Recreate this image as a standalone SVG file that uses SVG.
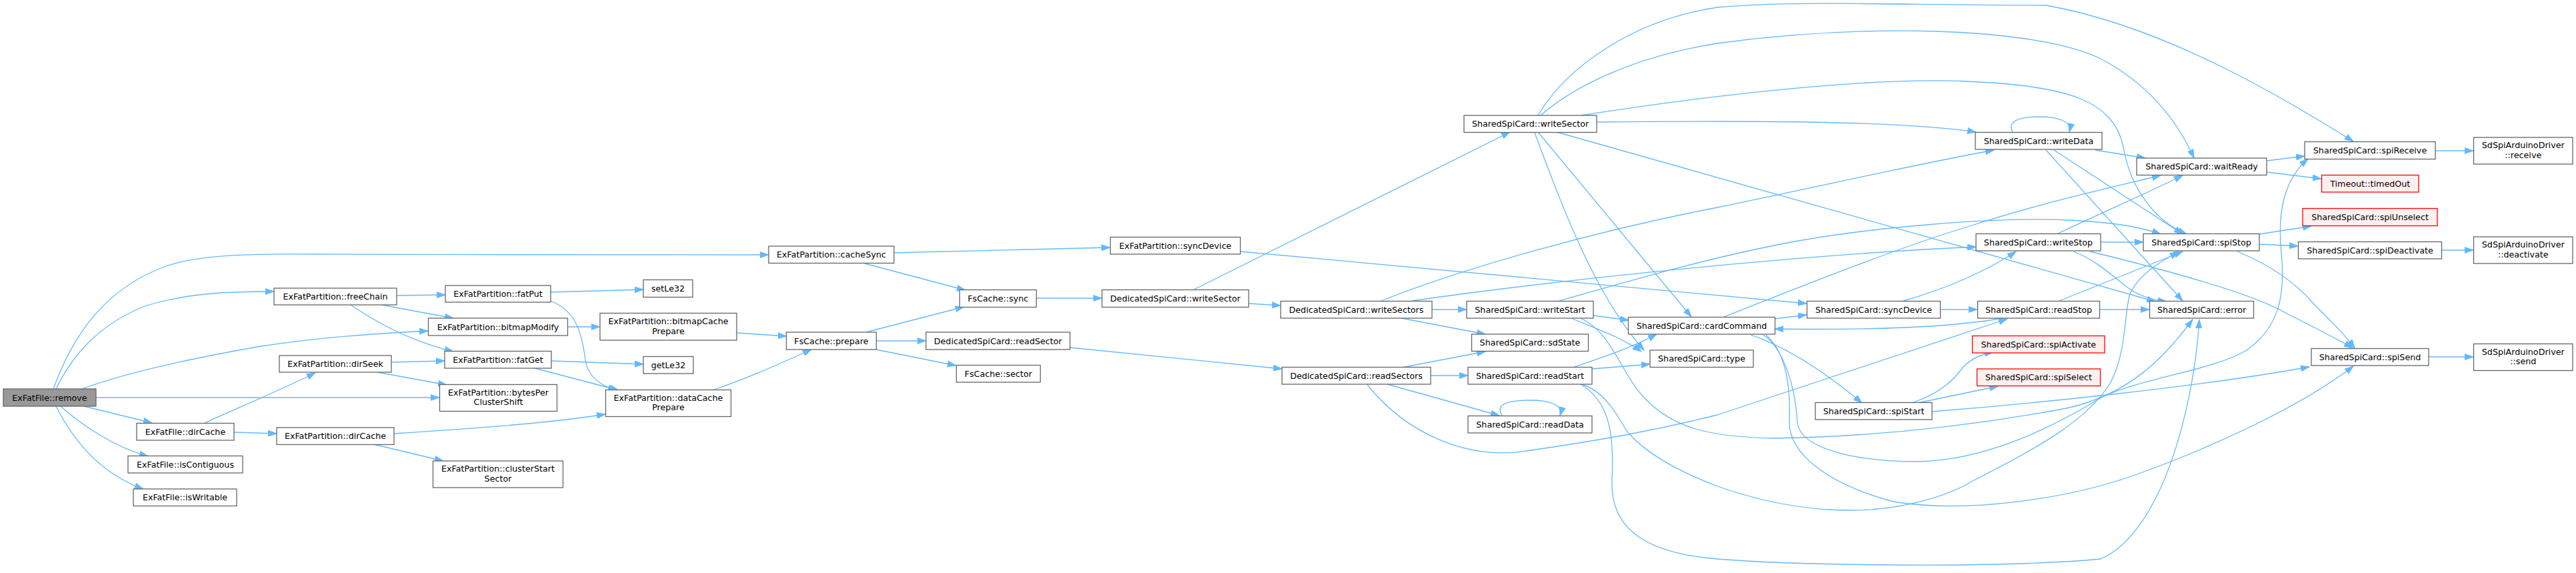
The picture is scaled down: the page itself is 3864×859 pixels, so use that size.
<svg xmlns="http://www.w3.org/2000/svg" width="3864" height="859" viewBox="0 0 3864 859">
<style>
.n rect{fill:#fff;stroke:#666;stroke-width:1.3}
.n.root rect{fill:#999}
.n.red rect{fill:#fff0f0;stroke:#f00}
.n text{font-family:"DejaVu Sans","Liberation Sans",sans-serif;font-size:12.7px;fill:#000;text-anchor:middle}
#edges path{fill:none;stroke:#63b8ff;stroke-width:1.3;marker-end:url(#ah)}
</style>
<defs>
<marker id="ah" markerWidth="14" markerHeight="10" refX="13" refY="5" orient="auto" markerUnits="userSpaceOnUse"><path d="M0,0.5 L13,5 L0,9.5 z" fill="#63b8ff" stroke="#63b8ff" stroke-width="1"/></marker>
</defs>
<rect width="3864" height="859" fill="#fff"/>
<g id="edges">
<path d="M80,583 C110,500 160,430 252,398 C300,382 380,380 470,381 C700,382 1000,382 1153,382"/>
<path d="M84,583 C110,530 150,485 220,458 C280,440 340,437 411,437"/>
<path d="M123,583 C200,555 300,535 386,520 C480,505 570,500 642,496"/>
<path d="M144,596 L659,596"/>
<path d="M126,609 L228,634"/>
<path d="M91,609 C120,635 170,670 222,684"/>
<path d="M84,609 C110,660 150,710 215,733"/>
<path d="M595,443 L668,442"/>
<path d="M572,457 L680,477"/>
<path d="M526,457 C560,480 610,510 680,527"/>
<path d="M587,543 L667,541"/>
<path d="M566,558 L670,577"/>
<path d="M307,634 C360,610 420,585 473,559"/>
<path d="M351,648 L415,650"/>
<path d="M591,650 C700,643 820,635 908,621"/>
<path d="M560,666 L665,691"/>
<path d="M826,438 L965,434"/>
<path d="M826,451 C860,465 872,490 878,540 C882,565 900,578 925,585"/>
<path d="M852,490 L900,490"/>
<path d="M827,541 L965,546"/>
<path d="M802,552 L928,585"/>
<path d="M1105,499 L1180,504"/>
<path d="M1071,584 C1120,568 1170,545 1217,524"/>
<path d="M1341,379 L1665,371"/>
<path d="M1297,395 L1448,435"/>
<path d="M1299,498 L1446,460"/>
<path d="M1314,511 L1389,511"/>
<path d="M1314,524 L1434,548"/>
<path d="M1555,447 L1653,447"/>
<path d="M1860,377 L2710,455"/>
<path d="M1791,434 L2265,198"/>
<path d="M1873,455 L1921,458"/>
<path d="M1605,521 L1923,553"/>
<path d="M2148,464 L2200,464"/>
<path d="M2102,477 L2228,501"/>
<path d="M2072,451 C2200,400 2400,345 2576,311 C2750,275 2880,245 2991,225"/>
<path d="M2118,451 C2350,418 2700,382 2964,370"/>
<path d="M2102,551 L2228,527"/>
<path d="M2146,563 L2202,563"/>
<path d="M2081,576 L2249,623"/>
<path d="M2051,577 C2110,650 2200,690 2290,676 C2400,660 2480,646 2576,622 C2750,565 2900,515 3011,478"/>
<path d="M2254,624 C2240,605 2265,600 2295,600 C2325,600 2345,607 2340,623"/>
<path d="M2390,473 L2443,480"/>
<path d="M2357,477 C2400,495 2430,505 2462,527"/>
<path d="M2371,477 C2420,500 2430,560 2470,600 C2510,640 2560,655 2660,657 C2800,655 2950,640 3100,612 C3200,590 3250,530 3289,479"/>
<path d="M2339,451 C2450,420 2550,390 2666,367 C2800,340 3000,325 3100,330 C3170,333 3210,340 3241,351"/>
<path d="M2388,553 L2475,546"/>
<path d="M2359,551 C2390,540 2440,525 2485,501"/>
<path d="M2371,576 C2410,600 2422,640 2418,720 C2415,800 2480,830 2576,838 C2700,848 3000,852 3151,838 C3240,800 3290,620 3299,479"/>
<path d="M2372,576 C2405,585 2425,620 2440,646 C2460,670 2500,700 2576,729 C2650,755 2720,765 2776,765 C2850,765 2920,745 2961,720 C3060,670 3130,630 3165,575 C3190,530 3186,470 3195,440 C3210,410 3240,392 3268,378"/>
<path d="M2395,183 C2600,181 2850,180 2964,198"/>
<path d="M2311,173 C2360,130 2450,85 2576,65 C2800,35 3050,40 3151,88 C3230,130 3270,190 3291,237"/>
<path d="M2307,173 C2350,100 2450,30 2576,11 C2700,0 2850,8 3069,8 C3250,40 3430,150 3530,212"/>
<path d="M2372,173 C2550,145 2800,115 2950,122 C3100,128 3170,150 3185,220 C3195,280 3230,330 3280,351"/>
<path d="M2335,198 L3233,452"/>
<path d="M2307,198 L2537,475"/>
<path d="M2302,199 C2340,300 2390,440 2466,525"/>
<path d="M3020,199 C3008,182 3030,175 3058,175 C3088,175 3108,182 3104,198"/>
<path d="M3143,225 L3218,237"/>
<path d="M3081,225 L3274,351"/>
<path d="M3069,225 L3274,451"/>
<path d="M3400,241 L3457,234"/>
<path d="M3400,258 L3482,268"/>
<path d="M3653,226 L3710,226"/>
<path d="M3389,351 L3467,339"/>
<path d="M3389,366 L3447,369"/>
<path d="M3356,377 C3400,395 3440,420 3470,455 C3500,485 3520,505 3532,522"/>
<path d="M3662,375 L3710,375"/>
<path d="M3643,535 L3710,535"/>
<path d="M3085,351 C3150,320 3220,290 3274,263"/>
<path d="M3151,363 L3215,363"/>
<path d="M3110,377 C3140,388 3165,410 3190,430 C3210,445 3230,450 3250,452"/>
<path d="M3135,377 C3250,405 3380,440 3430,470 C3470,490 3510,510 3529,522"/>
<path d="M2855,451 C2930,430 2990,400 3024,377"/>
<path d="M2911,464 L2966,464"/>
<path d="M3089,451 L3274,377"/>
<path d="M3149,464 L3224,464"/>
<path d="M3003,477 C2920,492 2800,495 2662,493"/>
<path d="M2662,478 L2710,472"/>
<path d="M2586,475 C2700,430 2850,370 2961,337 C3060,305 3150,285 3241,263"/>
<path d="M2626,502 C2680,520 2740,560 2793,604"/>
<path d="M2649,502 C2680,530 2686,580 2684,633 C2684,680 2740,725 2840,752 C2950,770 3100,748 3200,713 C3320,670 3450,610 3530,549"/>
<path d="M2645,502 C2672,520 2692,570 2696,633 C2700,672 2780,692 2877,692 C2980,690 3080,640 3154,595 C3220,565 3320,555 3370,525 C3420,490 3428,440 3422,380 C3416,320 3425,270 3462,238"/>
<path d="M2868,604 C2910,590 2930,570 2945,550 C2960,535 2975,530 2990,528"/>
<path d="M2877,604 L2997,579"/>
<path d="M2898,617 C3050,605 3300,580 3464,550"/>
</g>
<g id="n1" class="n root"><rect x="5" y="583" width="139" height="26"/><text x="74.5" y="600.5">ExFatFile::remove</text></g>
<g id="n2" class="n"><rect x="205" y="634.5" width="146" height="25.5"/><text x="278" y="651.5">ExFatFile::dirCache</text></g>
<g id="n3" class="n"><rect x="192" y="683.5" width="172" height="25.5"/><text x="278" y="700.5">ExFatFile::isContiguous</text></g>
<g id="n4" class="n"><rect x="200" y="733" width="155" height="25.5"/><text x="277.5" y="750">ExFatFile::isWritable</text></g>
<g id="n5" class="n"><rect x="411" y="432" width="184" height="25"/><text x="503" y="449">ExFatPartition::freeChain</text></g>
<g id="n6" class="n"><rect x="419" y="533" width="168" height="25"/><text x="503" y="550">ExFatPartition::dirSeek</text></g>
<g id="n7" class="n"><rect x="415" y="641" width="176" height="25.5"/><text x="503" y="658">ExFatPartition::dirCache</text></g>
<g id="n8" class="n"><rect x="1153" y="369" width="188" height="25.5"/><text x="1247" y="386">ExFatPartition::cacheSync</text></g>
<g id="n9" class="n"><rect x="668" y="428" width="158" height="25"/><text x="747" y="445">ExFatPartition::fatPut</text></g>
<g id="n10" class="n"><rect x="965" y="419.5" width="74" height="26"/><text x="1002" y="437">setLe32</text></g>
<g id="n11" class="n"><rect x="642.5" y="477" width="209" height="26"/><text x="747" y="494.5">ExFatPartition::bitmapModify</text></g>
<g id="n12" class="n"><rect x="900" y="469.5" width="205" height="40.5"/><text x="1002.5" y="486">ExFatPartition::bitmapCache</text><text x="1002.5" y="500.5">Prepare</text></g>
<g id="n13" class="n"><rect x="667" y="526.5" width="160" height="25.5"/><text x="747" y="543.5">ExFatPartition::fatGet</text></g>
<g id="n14" class="n"><rect x="965" y="534.5" width="75" height="25.5"/><text x="1002.5" y="551.5">getLe32</text></g>
<g id="n15" class="n"><rect x="659.5" y="576.5" width="176" height="40"/><text x="747.5" y="592.5">ExFatPartition::bytesPer</text><text x="747.5" y="607">ClusterShift</text></g>
<g id="n16" class="n"><rect x="908.5" y="584.5" width="188" height="40"/><text x="1002.5" y="600.5">ExFatPartition::dataCache</text><text x="1002.5" y="615">Prepare</text></g>
<g id="n17" class="n"><rect x="649.5" y="691" width="195" height="40"/><text x="747" y="707">ExFatPartition::clusterStart</text><text x="747" y="721.5">Sector</text></g>
<g id="n18" class="n"><rect x="1179.5" y="498" width="135" height="26"/><text x="1247" y="515.5">FsCache::prepare</text></g>
<g id="n19" class="n"><rect x="1665.5" y="355.5" width="195" height="25.5"/><text x="1763" y="372.5">ExFatPartition::syncDevice</text></g>
<g id="n20" class="n"><rect x="1439.5" y="434.5" width="115" height="26"/><text x="1497" y="452">FsCache::sync</text></g>
<g id="n21" class="n"><rect x="1653" y="434.5" width="220" height="26"/><text x="1763" y="452">DedicatedSpiCard::writeSector</text></g>
<g id="n22" class="n"><rect x="1389" y="498" width="216" height="26"/><text x="1497" y="515.5">DedicatedSpiCard::readSector</text></g>
<g id="n23" class="n"><rect x="1434.5" y="547.5" width="126" height="25.5"/><text x="1497.5" y="564.5">FsCache::sector</text></g>
<g id="n24" class="n"><rect x="2196" y="173" width="199" height="25.5"/><text x="2295.5" y="190">SharedSpiCard::writeSector</text></g>
<g id="n25" class="n"><rect x="1921" y="451.5" width="227" height="25.5"/><text x="2034.5" y="468.5">DedicatedSpiCard::writeSectors</text></g>
<g id="n26" class="n"><rect x="1923" y="550.5" width="223" height="25.5"/><text x="2034.5" y="567.5">DedicatedSpiCard::readSectors</text></g>
<g id="n27" class="n"><rect x="2200" y="451.5" width="190" height="25.5"/><text x="2295" y="468.5">SharedSpiCard::writeStart</text></g>
<g id="n28" class="n"><rect x="2207.5" y="501" width="175" height="25.5"/><text x="2295" y="518">SharedSpiCard::sdState</text></g>
<g id="n29" class="n"><rect x="2202" y="550.5" width="186" height="25.5"/><text x="2295" y="567.5">SharedSpiCard::readStart</text></g>
<g id="n30" class="n"><rect x="2202" y="623.5" width="186" height="25.5"/><text x="2295" y="640.5">SharedSpiCard::readData</text></g>
<g id="n31" class="n"><rect x="2442.5" y="475.5" width="220" height="25.5"/><text x="2552.5" y="492.5">SharedSpiCard::cardCommand</text></g>
<g id="n32" class="n"><rect x="2475" y="525" width="155" height="25.5"/><text x="2552.5" y="542">SharedSpiCard::type</text></g>
<g id="n33" class="n"><rect x="2710.5" y="451.5" width="200" height="25.5"/><text x="2810.5" y="468.5">SharedSpiCard::syncDevice</text></g>
<g id="n34" class="n"><rect x="2966.5" y="451.5" width="183" height="25.5"/><text x="3058" y="468.5">SharedSpiCard::readStop</text></g>
<g id="n35" class="n red"><rect x="2958.5" y="503.5" width="198.5" height="25.5"/><text x="3057.75" y="520.5">SharedSpiCard::spiActivate</text></g>
<g id="n36" class="n red"><rect x="2965.5" y="553" width="185" height="25.5"/><text x="3058" y="570">SharedSpiCard::spiSelect</text></g>
<g id="n37" class="n"><rect x="2723" y="603.5" width="175" height="25.5"/><text x="2810.5" y="620.5">SharedSpiCard::spiStart</text></g>
<g id="n38" class="n"><rect x="2963" y="198.5" width="190" height="25.5"/><text x="3058" y="215.5">SharedSpiCard::writeData</text></g>
<g id="n39" class="n"><rect x="2964" y="350.5" width="187" height="25.5"/><text x="3057.5" y="367.5">SharedSpiCard::writeStop</text></g>
<g id="n40" class="n"><rect x="3205" y="237" width="195" height="25.5"/><text x="3302.5" y="254">SharedSpiCard::waitReady</text></g>
<g id="n41" class="n"><rect x="3457" y="212.5" width="196" height="26"/><text x="3555" y="230">SharedSpiCard::spiReceive</text></g>
<g id="n42" class="n"><rect x="3710.5" y="206" width="148.5" height="40"/><text x="3784.75" y="222">SdSpiArduinoDriver</text><text x="3784.75" y="236.5">::receive</text></g>
<g id="n43" class="n red"><rect x="3482.5" y="262.5" width="145.5" height="25.5"/><text x="3555.25" y="279.5">Timeout::timedOut</text></g>
<g id="n44" class="n red"><rect x="3454" y="312.5" width="202" height="26"/><text x="3555" y="330">SharedSpiCard::spiUnselect</text></g>
<g id="n45" class="n"><rect x="3215" y="350.5" width="174" height="25.5"/><text x="3302" y="367.5">SharedSpiCard::spiStop</text></g>
<g id="n46" class="n"><rect x="3447.5" y="362.5" width="215" height="25.5"/><text x="3555" y="379.5">SharedSpiCard::spiDeactivate</text></g>
<g id="n47" class="n"><rect x="3710.5" y="355" width="148.5" height="40"/><text x="3784.75" y="371">SdSpiArduinoDriver</text><text x="3784.75" y="385.5">::deactivate</text></g>
<g id="n48" class="n"><rect x="3224.5" y="451.5" width="156" height="25.5"/><text x="3302.5" y="468.5">SharedSpiCard::error</text></g>
<g id="n49" class="n"><rect x="3467" y="522.5" width="176" height="25.5"/><text x="3555" y="539.5">SharedSpiCard::spiSend</text></g>
<g id="n50" class="n"><rect x="3710.5" y="515.5" width="148.5" height="40"/><text x="3784.75" y="531.5">SdSpiArduinoDriver</text><text x="3784.75" y="546">::send</text></g>
</svg>
